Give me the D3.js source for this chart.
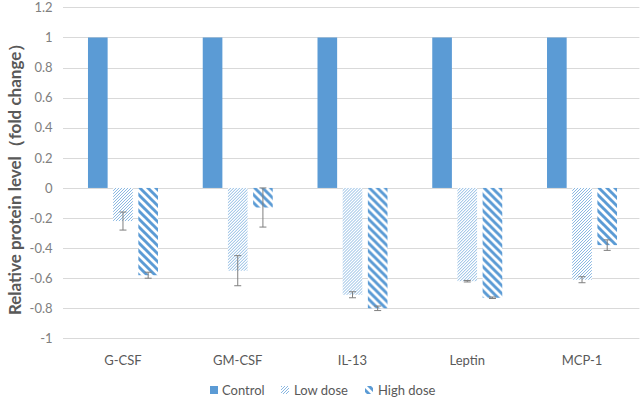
<!DOCTYPE html>
<html>
<head>
<meta charset="utf-8">
<script src="https://cdn.jsdelivr.net/npm/d3@7/dist/d3.min.js"></script>
<style>
  html, body { margin: 0; padding: 0; background: #fff; }
  svg { display: block; }
</style>
</head>
<body>
<svg id="chart" width="644" height="401"></svg>
<script>
// ---- Data ----
const categories = ["G-CSF", "GM-CSF", "IL-13", "Leptin", "MCP-1"];
const seriesNames = ["Control", "Low dose", "High dose"];
const controlValues = [1, 1, 1, 1, 1];
const lowDoseValues = [-0.22, -0.55, -0.71, -0.62, -0.61];
const lowDoseErrors = [0.06, 0.10, 0.02, 0.005, 0.02];
const highDoseValues = [-0.58, -0.13, -0.80, -0.73, -0.38];
const highDoseErrors = [0.02, 0.13, 0.015, 0.005, 0.035];
const yTicks = [1.2, 1, 0.8, 0.6, 0.4, 0.2, 0, -0.2, -0.4, -0.6, -0.8, -1];
const yTickLabels = ["1.2", "1", "0.8", "0.6", "0.4", "0.2", "0", "-0.2", "-0.4", "-0.6", "-0.8", "-1"];
const yTitle = "Relative protein level（fold change）";

// ---- Layout ----
const svg = d3.select("#chart");
const margin = { left: 65.6, right: 4.6, top: 7.4, bottom: 62.6 };
const W = 644, H = 401;
const blue = "#5B9BD5";
const font = "Lato, 'Open Sans', sans-serif";

const x0 = d3.scaleBand().domain(categories)
  .range([margin.left, W - margin.right]).paddingInner(0.39).paddingOuter(0.195);
const x1 = d3.scaleBand().domain(seriesNames)
  .range([0, x0.bandwidth()]).paddingInner(0.22);
const y = d3.scaleLinear().domain([-1, 1.2]).range([H - margin.bottom, margin.top]);

// ---- Patterns ----
const defs = svg.append("defs");
const pLow = defs.append("pattern").attr("id", "lowPat")
  .attr("patternUnits", "userSpaceOnUse").attr("width", 3).attr("height", 3);
pLow.append("rect").attr("width", 3).attr("height", 3).attr("fill", "#fff");
pLow.append("path").attr("d", "M-1,1 L1,-1 M0,3 L3,0 M2,4 L4,2")
  .attr("stroke", blue).attr("stroke-width", 0.9).attr("stroke-opacity", 0.8);

const pHigh = defs.append("pattern").attr("id", "highPat")
  .attr("patternUnits", "userSpaceOnUse").attr("width", 8).attr("height", 8);
pHigh.append("rect").attr("width", 8).attr("height", 8).attr("fill", "#fff");
pHigh.append("path").attr("d", "M-1,-1 L9,9 M-5,3 L1,9 M3,-5 L9,1 M7,-1 L9,1 M-1,7 L1,9")
  .attr("stroke", blue).attr("stroke-width", 2.9);

const fills = { "Control": blue, "Low dose": "url(#lowPat)", "High dose": "url(#highPat)" };

// ---- Gridlines ----
svg.append("g").selectAll("line").data(yTicks).join("line")
  .attr("x1", margin.left - 2.6).attr("x2", W - margin.right)
  .attr("y1", d => Math.round(y(d)) + 0.5).attr("y2", d => Math.round(y(d)) + 0.5)
  .attr("stroke", "#D9D9D9").attr("stroke-width", 1);

// ---- Y axis labels ----
const yAxis = d3.axisLeft(y).tickValues(yTicks)
  .tickFormat((d, i) => yTickLabels[i]).tickSize(0).tickPadding(0);
const gy = svg.append("g").attr("transform", `translate(${margin.left - 13},0)`).call(yAxis);
gy.select(".domain").remove();
gy.selectAll("text").attr("fill", "#808080").style("font-family", font).style("font-size", "13px");

// ---- Bars ----
const rows = categories.map((c, i) => ({
  cat: c,
  items: [
    { s: "Control", v: controlValues[i], e: null },
    { s: "Low dose", v: lowDoseValues[i], e: lowDoseErrors[i] },
    { s: "High dose", v: highDoseValues[i], e: highDoseErrors[i] }
  ]
}));

const groups = svg.append("g").selectAll("g").data(rows).join("g")
  .attr("transform", d => `translate(${x0(d.cat)},0)`);

groups.selectAll("rect").data(d => d.items).join("rect")
  .attr("x", d => x1(d.s))
  .attr("width", x1.bandwidth())
  .attr("y", d => y(Math.max(0, d.v)))
  .attr("height", d => Math.abs(y(d.v) - y(0)))
  .attr("fill", d => fills[d.s]);

// ---- Error bars ----
const errColor = "#7F7F7F";
const eb = groups.selectAll("g.err").data(d => d.items.filter(it => it.e !== null)).join("g").attr("class", "err");
eb.append("line")
  .attr("x1", d => x1(d.s) + x1.bandwidth() / 2).attr("x2", d => x1(d.s) + x1.bandwidth() / 2)
  .attr("y1", d => y(d.v + d.e)).attr("y2", d => y(d.v - d.e))
  .attr("stroke", errColor).attr("stroke-width", 1);
[1, -1].forEach(sign => {
  eb.append("line")
    .attr("x1", d => x1(d.s) + x1.bandwidth() / 2 - 3.5).attr("x2", d => x1(d.s) + x1.bandwidth() / 2 + 3.5)
    .attr("y1", d => y(d.v + sign * d.e)).attr("y2", d => y(d.v + sign * d.e))
    .attr("stroke", errColor).attr("stroke-width", 1);
});

// ---- X axis labels ----
const xAxis = d3.axisBottom(x0).tickSize(0).tickPadding(0);
const gx = svg.append("g").attr("transform", `translate(0,${y(-1) + 17})`).call(xAxis);
gx.select(".domain").remove();
gx.selectAll("text").attr("fill", "#595959").style("font-family", font).style("font-size", "13px");

// ---- Y title ----
svg.append("text")
  .attr("transform", `translate(21,${(y(1.2) + y(-1)) / 2 + 2}) rotate(-90)`)
  .attr("text-anchor", "middle")
  .attr("fill", "#595959")
  .style("font-family", font).style("font-size", "17px").style("font-weight", "bold")
  .text(yTitle);

// ---- Legend ----
const legendX = [210, 281, 365];
const legend = svg.append("g").selectAll("g").data(seriesNames).join("g")
  .attr("transform", (d, i) => `translate(${legendX[i]},390)`);
legend.append("rect").attr("x", 0).attr("y", -4).attr("width", 8).attr("height", 8)
  .attr("fill", d => fills[d]);
legend.append("text").attr("x", (d, i) => i === 0 ? 12 : 13).attr("y", 0).attr("dy", "0.35em")
  .attr("fill", "#595959").style("font-family", font).style("font-size", "13px")
  .text(d => d);
</script>
</body>
</html>
